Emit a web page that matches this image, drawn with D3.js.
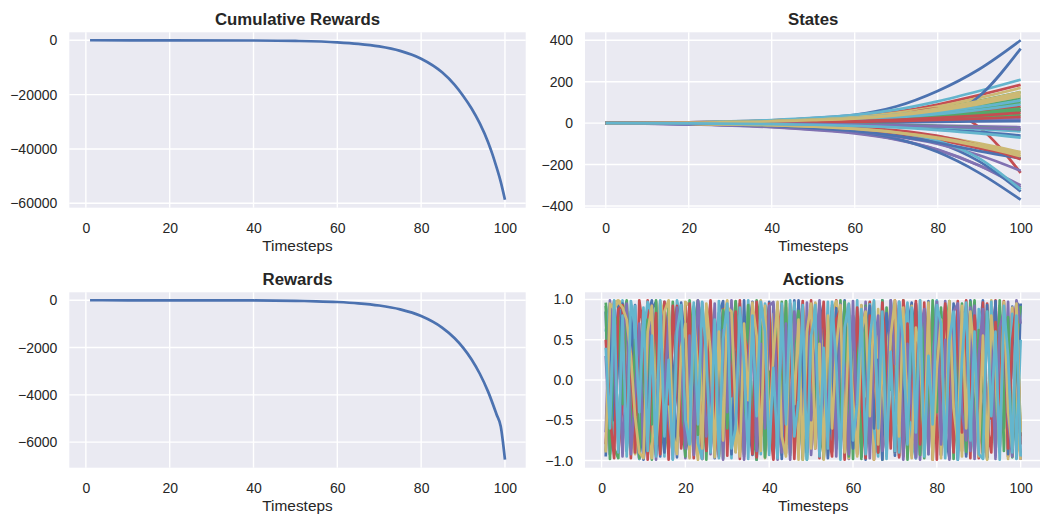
<!DOCTYPE html>
<html>
<head>
<meta charset="utf-8">
<script src="https://cdn.jsdelivr.net/npm/d3@7"></script>
<style>
  body { margin: 0; background: #fff; }
  svg { display: block; font-family: "Liberation Sans", Arial, sans-serif; }
</style>
</head>
<body>
<svg id="chart" width="1040" height="517"></svg>
<script>
// seaborn "deep" colours, cycled per line
const palette = ["#4C72B0", "#55A868", "#C44E52", "#8172B2", "#CCB974", "#64B5CD"];

const xTicks = [0, 20, 40, 60, 80, 100];
const cumTicks = [0, -20000, -40000, -60000];
const stateTicks = [-400, -200, 0, 200, 400];
const rewardTicks = [0, -2000, -4000, -6000];
const actionTicks = [-1, -0.5, 0, 0.5, 1];

// cumulative rewards, read at a few timesteps
const cumSteps = [1, 20, 40, 50, 60, 65, 70, 75, 80, 85, 88, 90, 92, 94, 96, 97, 98, 99, 100];
const cumValues = [-0.1, -8, -78, -240, -740, -1300, -2250, -3900, -6800, -11800, -16400, -20400,
  -25000, -30600, -37600, -41900, -46800, -52100, -58700];

// per-step rewards, read at a few timesteps
const rewardSteps = [1, 10, 20, 30, 40, 50, 55, 60, 65, 70, 75, 80, 85, 88, 90, 92, 94, 96, 98, 99, 100];
const rewardValues = [-0.1, -0.3, -0.9, -2.7, -8, -25, -43, -74, -128, -222, -385, -667, -1155,
  -1604, -2000, -2493, -3108, -3875, -4830, -5340, -6745];

// state trajectories, read at these timesteps
const stateSteps = [0, 20, 40, 50, 60, 70, 80, 90, 100];
const stateSeries = [
  [0, 2, 12, 24, 40, 80, 155, 260, 400],
  [0, 3, 10, 18, 27, 45, 72, 108, 150],
  [0, 4, 13, 22, 33, 55, 90, 135, 185],
  [0, -6, -20, -33, -50, -80, -130, -205, -300],
  [0, 3, 12, 20, 30, 50, 80, 122, 170],
  [0, 4, 15, 25, 40, 65, 105, 155, 210],
  [0, 1, 3, 5, 8, 12, 25, 130, 360],
  [0, 2, 8, 14, 22, 36, 58, 86, 120],
  [0, 2, 8, 14, 22, 38, 70, -20, -240],
  [0, -5, -18, -30, -46, -78, -128, -205, -310],
  [0, 3, 10, 17, 26, 43, 70, 106, 150],
  [0, 2, 9, 15, 24, 40, 63, 94, 130],
  [0, -3, -12, -22, -40, -75, -140, -240, -370],
  [0, 2, 7, 12, 18, 30, 48, 72, 100],
  [0, 2, 6, 10, 15, 25, 40, 58, 80],
  [0, 1, 4, 7, 11, 18, 29, 43, 60],
  [0, 2, 9, 15, 24, 40, 65, 99, 140],
  [0, 2, 7, 12, 19, 32, 52, 78, 110],
  [0, -2, -9, -16, -27, -50, -95, -185, -330],
  [0, 1, 5, 8, 13, 22, 35, 50, 70],
  [0, -3, -11, -19, -30, -50, -80, -122, -170],
  [0, -5, -16, -26, -40, -64, -100, -155, -230],
  [0, -3, -9, -15, -24, -40, -64, -98, -140],
  [0, -2, -8, -14, -24, -45, -85, -170, -320],
  [0, -4, -14, -24, -38, -62, -95, -135, -170],
  [0, 1, 4, 7, 11, 19, 30, 44, 60],
  [0, -2, -8, -13, -20, -35, -62, -108, -175],
  [0, 0, -2, -3, -5, -8, -12, -16, -20],
  [0, -3, -10, -17, -27, -44, -70, -106, -150],
  [0, 1, 6, 10, 16, 27, 43, 64, 90],
  [0, -1, -4, -7, -10, -17, -28, -42, -60],
  [0, 1, 3, 5, 7, 12, 19, 28, 40],
  [0, 1, 4, 6, 10, 16, 25, 36, 50],
  [0, 1, 2, 3, 4, 7, 10, 15, 20],
  [0, -3, -10, -17, -28, -46, -74, -112, -160],
  [0, -1, -3, -5, -8, -13, -20, -29, -40],
  [0, 0, 1, 2, 3, 4, 6, 8, 10],
  [0, -1, -2, -4, -6, -10, -15, -22, -30],
  [0, 1, 2, 4, 6, 10, 15, 22, 30],
  [0, -1, -3, -5, -7, -11, -16, -23, -30],
  [0, 2, 8, 14, 22, 37, 60, 92, 130],
  [0, -1, -5, -8, -13, -21, -34, -50, -70]
];

// actions, one value per timestep 1..100
const actionSeries = [
  [.85,-.92,-.40,.97,.62,-.88,.10,.93,-.97,-.55,
   .78,.99,-.30,-.95,.42,.88,-.76,.05,.96,-.90,
   -.62,.91,.35,-.98,.70,-.20,-.94,.83,.98,-.45,
   .12,-.89,.95,-.70,.58,.97,-.99,-.25,.81,-.60,
   .94,.20,-.93,.67,-.85,.99,-.10,-.96,.74,.31,
   -.82,.90,-.98,.48,.86,-.66,-.15,.97,-.91,.55,
   -.35,.92,-.99,.08,.79,-.87,.99,-.52,.25,-.94,
   .89,-.72,.63,.96,-.97,-.18,.84,-.80,.40,.98,
   -.93,.15,-.60,.95,-.99,.72,-.38,.87,-.90,.52,
   .99,-.96,-.05,.93,-.83,.68,-.58,.91,-.97,.95],
  [.96,.40,-.85,-.97,.73,.99,-.20,-.91,.58,-.66,
   .88,-.99,.32,.95,-.48,-.90,.97,.15,-.78,.83,
   -.95,.60,.99,-.35,-.88,.92,-.10,.76,-.97,.44,
   -.70,.98,.25,-.92,.85,-.55,-.99,.66,.90,-.28,
   .53,-.96,.97,-.42,.18,.94,-.87,.70,-.99,.36,
   .95,-.60,-.93,.80,.08,-.75,.99,-.45,.62,-.98,
   .87,.22,-.90,.96,-.65,.47,-.99,.90,-.12,.79,
   -.94,.99,-.50,-.82,.93,.30,-.97,.68,-.40,.91,
   -.86,.57,.98,-.73,-.20,.95,-.92,.43,.99,-.64,
   .16,-.98,.86,-.33,.92,-.88,.61,-.95,.97,-.70],
  [-.80,.55,.98,-.90,-.30,.85,-.97,.65,.20,-.88,
   .99,-.58,-.93,.74,.40,-.99,.92,-.15,-.70,.96,
   .28,-.86,.90,-.98,.50,.97,-.62,.05,.88,-.94,
   .69,-.40,.99,-.83,-.12,.93,-.96,.58,.81,-.50,
   -.99,.77,.33,-.91,.95,-.68,.14,.98,-.85,-.25,
   .90,-.97,.60,.45,-.89,.99,-.35,-.80,.94,.10,
   -.92,.84,-.55,.97,-.99,.38,.72,-.86,.91,-.20,
   -.96,.99,.52,-.78,.30,-.93,.96,-.64,.87,-.99,
   .45,.92,-.70,-.15,.98,-.88,.62,-.97,.80,.25,
   -.90,.95,-.48,.99,-.82,.35,-.95,.89,-.60,-.92],
  [.30,-.75,.90,.55,-.95,.20,.82,-.60,-.98,.70,
   -.40,.93,-.85,.15,.97,-.50,-.90,.65,.35,-.97,
   .88,-.25,-.80,.96,.05,-.92,.75,.45,-.99,.60,
   .92,-.70,.10,-.95,.85,.50,-.88,.98,-.30,-.65,
   .78,-.99,.40,.90,-.55,-.20,.96,-.82,.62,-.93,
   -.10,.87,-.96,.72,.30,-.85,.94,-.45,-.98,.80,
   .55,-.72,.97,-.35,-.90,.68,.15,-.94,.99,-.58,
   .40,-.87,.82,-.15,.95,-.99,.48,.75,-.80,.20,
   -.93,.98,-.62,.35,-.97,.85,.05,-.88,.92,-.45,
   .70,-.96,.58,.93,-.75,-.30,.97,-.85,.40,-.99],
  [-.88,.20,.96,.99,.95,.60,-.50,-.92,.30,.85,
   -.70,-.97,.45,.98,.80,-.25,-.93,.65,-.40,.97,
   .92,-.60,-.99,.15,.88,-.82,.55,-.95,.75,.99,
   -.35,-.90,.68,-.12,.94,-.78,.40,.99,-.97,-.55,
   .82,.25,-.88,.97,-.65,.10,-.99,.90,.50,-.85,
   .96,-.30,.60,-.94,.85,.98,.70,-.45,-.97,.35,
   -.80,.93,-.20,.65,-.99,.88,-.58,.45,.97,-.90,
   -.15,.78,-.96,.92,-.40,.99,-.85,.55,-.30,.94,
   -.97,.62,.90,-.70,.25,-.95,.98,-.50,-.88,.75,
   .40,-.93,.99,-.65,.85,-.20,-.98,.90,-.55,-.99],
  [.60,.95,-.70,.40,.99,-.85,-.35,.92,-.98,.55,
   .97,.80,-.62,.25,-.95,.90,-.45,.99,.70,-.88,
   .10,.96,-.78,-.98,.83,.50,-.93,.98,-.20,.65,
   -.97,.88,.45,-.85,.99,-.60,.30,-.92,.95,.75,
   -.40,-.97,.85,.58,-.90,.96,-.15,.80,-.99,.48,
   .93,-.72,-.25,.97,-.88,.62,.35,-.96,.89,-.50,
   .99,-.83,.15,.94,-.60,-.95,.78,-.30,.98,.55,
   -.90,.40,.96,-.75,-.97,.85,.20,-.92,.66,.99,
   -.58,-.85,.93,.30,-.99,.70,.92,-.45,-.94,.88,
   .60,-.78,.97,-.90,.35,.95,-.65,.82,-.98,.50],
  [-.95,.70,-.50,.30,.95,-.80,.85,-.20,.60,-.99,
   -.60,.88,.97,-.40,-.90,.72,.15,-.96,.93,.45,
   -.85,-.30,.98,.62,-.75,.90,-.97,-.10,.85,.55,
   -.92,.35,-.80,.99,-.45,-.93,.70,.20,-.88,.97,
   -.65,.92,-.98,.30,.80,-.55,.99,.05,-.90,.86,
   -.40,.95,.65,-.97,-.20,.89,-.75,.99,-.30,-.85,
   .78,-.95,.50,.92,-.60,.25,-.99,.83,.40,-.90,
   .97,-.35,-.88,.60,.95,-.70,.10,.98,-.92,.45,
   .85,-.65,-.97,.90,-.25,.76,-.95,.99,.20,-.80,
   -.55,.93,-.30,.98,-.85,.70,-.92,.40,.96,.90],
  [.92,-.98,.65,.80,-.30,.96,-.85,.50,-.97,.20,
   .75,-.55,.99,-.88,-.15,.94,-.70,.88,-.40,-.95,
   .99,.30,-.68,.90,-.99,.55,.20,-.92,.87,-.60,
   .45,.97,-.90,-.35,.93,-.78,.99,.65,-.96,.10,
   -.85,.72,-.30,.98,-.93,.45,.86,-.99,.25,.95,
   -.62,.80,-.97,.15,.90,-.80,-.45,.97,-.95,.70,
   .35,-.98,.92,-.50,.85,-.90,.99,-.20,-.75,.95,
   -.55,.68,-.99,.88,.05,-.93,.75,-.65,.99,-.40,
   .90,-.30,.96,-.98,.55,.40,-.89,.97,-.72,.62,
   -.97,.85,.25,-.93,.99,-.60,.78,-.96,.45,.92],
  [.50,-.45,-.97,.88,.93,-.65,.35,-.90,.99,.60,
   -.99,.15,.83,-.92,.97,-.30,.55,.92,-.85,-.40,
   .95,-.97,.25,.70,-.88,.99,-.55,-.95,.40,.90,
   -.20,.85,-.98,.55,.35,-.92,.97,-.70,.10,.95,
   -.97,.50,.93,-.80,.65,-.98,.20,.92,-.45,.99,
   -.85,.30,.97,-.60,-.95,.75,.88,-.99,.40,-.55,
   .90,-.20,-.97,.80,.55,-.90,.96,.30,-.85,.99,
   .25,-.95,.70,-.50,.98,-.80,-.35,.92,-.99,.65,
   -.40,.95,.15,-.90,.85,-.65,.99,-.25,.80,-.97,
   .96,-.55,-.90,.72,-.30,.98,-.85,.50,.95,-.80],
  [-.65,.99,.25,-.80,.50,.95,-.92,-.20,.70,-.96,
   .40,.85,-.99,.60,-.20,.78,-.98,.90,.30,-.85,
   .55,-.93,.99,.40,-.70,-.15,.95,-.88,.62,-.40,
   .99,-.55,.80,-.99,.20,.96,-.85,.45,-.60,.92,
   .97,-.35,-.90,.70,-.99,.85,.30,-.75,.96,-.50,
   .25,.99,-.80,-.40,.93,-.95,.65,.15,-.92,.98,
   -.70,.55,.90,-.97,.35,.80,-.88,-.60,.99,.20,
   .93,-.99,.45,-.35,-.96,.60,.88,-.92,.15,.97,
   -.80,.50,-.99,.85,.95,-.40,-.75,.90,-.98,.30,
   .88,-.92,.40,-.98,.65,.85,-.50,-.95,.99,.70],
  [-.90,.95,.88,.97,.90,.75,.30,-.45,-.90,-.97,
   .60,.92,-.80,-.20,.85,.99,-.65,-.92,.40,.70,
   -.97,.80,.15,-.85,.95,.35,-.96,.60,-.75,.90,
   .85,-.40,-.95,.70,-.25,.96,.55,-.88,.92,-.65,
   .30,.97,-.70,-.95,.88,-.30,.75,-.99,.60,.95,
   -.85,.45,-.99,.80,-.60,.40,.93,-.90,.70,-.25,
   -.95,.60,.85,-.45,.97,-.80,.35,-.93,.55,.99,
   -.70,.90,-.50,-.97,.65,.35,-.88,.96,-.99,.15,
   .75,-.90,.98,-.35,-.80,.92,-.60,.85,.30,-.95,
   .55,-.99,.80,.20,-.90,.97,-.40,-.85,.95,-.65],
  [.40,-.60,.99,-.90,.80,-.95,.98,.65,-.40,.90,
   -.88,.55,-.95,.99,-.70,.25,-.99,.60,.93,-.50,
   -.80,.85,-.55,.97,.30,-.90,.75,-.97,.50,.95,
   -.85,-.60,.90,.20,-.98,.80,-.45,.97,.60,-.93,
   .15,-.88,.95,-.55,.99,-.70,-.25,.93,-.97,.55,
   .80,-.95,.40,-.85,.97,.20,-.99,.65,.95,-.75,
   -.30,.88,-.92,.50,.99,-.60,.85,-.98,.35,-.88,
   .97,.45,-.80,.90,-.65,.99,-.95,.30,-.55,.93,
   .70,-.97,.50,.85,-.88,.25,.96,-.75,.60,-.92,
   -.98,.85,-.45,.60,-.99,.92,.30,-.90,.80,-.95]
];

const svg = d3.select("#chart");
const W = 456.4, H = 175.4;

// matplotlib style autoscale: data extent plus 5% on each side
const padded = ([lo, hi]) => { const m = (hi - lo) * 0.05; return [lo - m, hi + m]; };

function drawPanel(o) {
  const g = svg.append("g").attr("transform", `translate(${o.left},${o.top})`);
  const x = d3.scaleLinear().domain(padded(o.xExtent)).range([0, W]);
  const y = d3.scaleLinear().domain(padded(o.yExtent)).range([H, 0]);

  g.append("rect").attr("width", W).attr("height", H).attr("fill", "#EAEAF2");

  // white grid
  g.selectAll("line.gx").data(xTicks).join("line")
    .attr("x1", d => x(d)).attr("x2", d => x(d))
    .attr("y1", 0).attr("y2", H)
    .attr("stroke", "#fff").attr("stroke-width", 1.4);
  g.selectAll("line.gy").data(o.yTicks).join("line")
    .attr("y1", d => y(d)).attr("y2", d => y(d))
    .attr("x1", 0).attr("x2", W)
    .attr("stroke", "#fff").attr("stroke-width", 1.4);

  const clipId = "clip-" + o.id;
  g.append("clipPath").attr("id", clipId)
    .append("rect").attr("width", W).attr("height", H);

  const line = d3.line()
    .x(d => x(d[0])).y(d => y(d[1]))
    .curve(o.curve || d3.curveLinear);

  g.append("g").attr("clip-path", `url(#${clipId})`)
    .selectAll("path").data(o.series).join("path")
    .attr("d", line)
    .attr("fill", "none")
    .attr("stroke", (d, i) => palette[i % palette.length])
    .attr("stroke-width", 2.7)
    .attr("stroke-linejoin", "round");

  // tick labels through d3 axes, no tick marks or domain
  const ax = g.append("g").attr("transform", `translate(0,${H})`)
    .call(d3.axisBottom(x).tickValues(xTicks).tickSize(0).tickPadding(15).tickFormat(d3.format("d")));
  const ay = g.append("g")
    .call(d3.axisLeft(y).tickValues(o.yTicks).tickSize(0).tickPadding(12).tickFormat(o.yFormat));
  [ax, ay].forEach(a => {
    a.select(".domain").remove();
    a.selectAll("text").attr("font-size", 14).attr("fill", "#262626")
      .attr("font-family", "'Liberation Sans', Arial, sans-serif");
  });

  g.append("text")
    .attr("x", W / 2).attr("y", H + 43.5)
    .attr("text-anchor", "middle")
    .attr("font-size", 15.4).attr("fill", "#262626")
    .text("Timesteps");

  g.append("text")
    .attr("x", W / 2).attr("y", -7.5)
    .attr("text-anchor", "middle")
    .attr("font-size", 16.8).attr("font-weight", "bold").attr("fill", "#262626")
    .text(o.title);
}

const zip = (xs, ys) => xs.map((v, i) => [v, ys[i]]);

drawPanel({
  id: "cum", title: "Cumulative Rewards", left: 69.3, top: 32.3,
  xExtent: d3.extent(cumSteps), yExtent: d3.extent(cumValues),
  yTicks: cumTicks, yFormat: d3.format("d"),
  series: [zip(cumSteps, cumValues)], curve: d3.curveMonotoneX
});

drawPanel({
  id: "states", title: "States", left: 585, top: 32.3,
  xExtent: d3.extent(stateSteps), yExtent: d3.extent(stateSeries.flat()),
  yTicks: stateTicks, yFormat: d3.format("d"),
  series: stateSeries.map(s => zip(stateSteps, s)), curve: d3.curveMonotoneX
});

drawPanel({
  id: "rewards", title: "Rewards", left: 69.3, top: 292.3,
  xExtent: d3.extent(rewardSteps), yExtent: d3.extent(rewardValues),
  yTicks: rewardTicks, yFormat: d3.format("d"),
  series: [zip(rewardSteps, rewardValues)], curve: d3.curveMonotoneX
});

drawPanel({
  id: "actions", title: "Actions", left: 585, top: 292.3,
  xExtent: [1, 100], yExtent: d3.extent(actionSeries.flat()),
  yTicks: actionTicks, yFormat: d3.format(".1f"),
  series: actionSeries.map(s => s.map((v, i) => [i + 1, v]))
});
</script>
</body>
</html>
